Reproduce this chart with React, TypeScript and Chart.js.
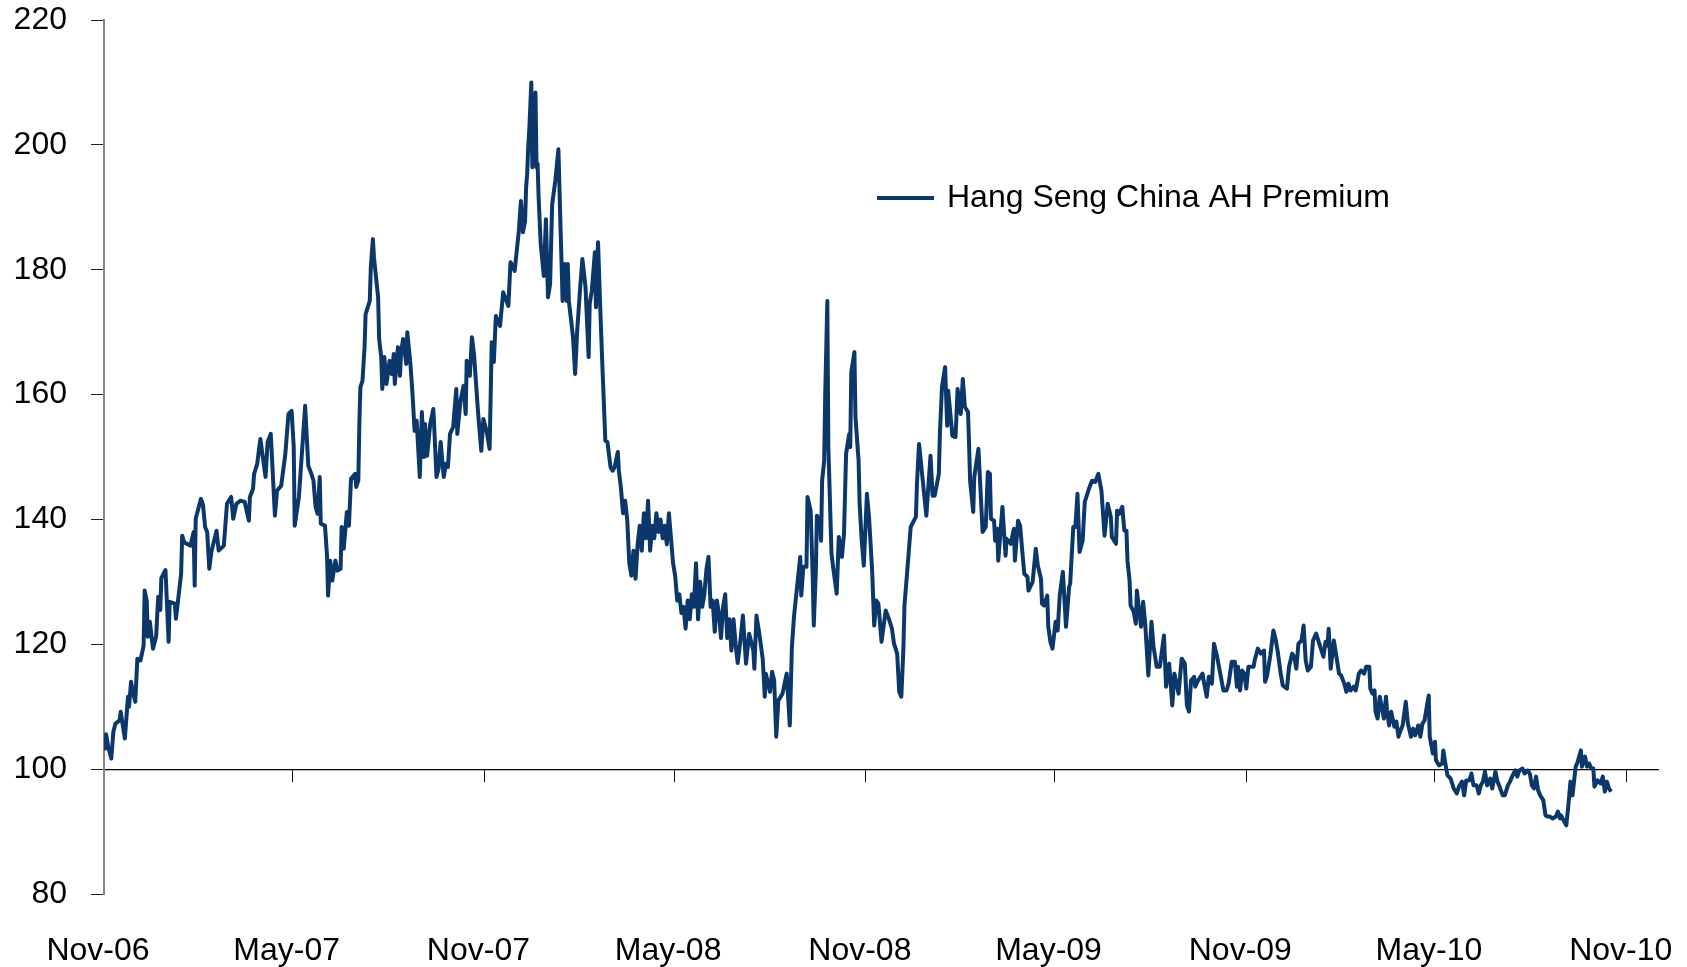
import { useEffect, useRef } from "react";
import { Chart, registerables } from "chart.js";

Chart.register(...registerables);

// Hang Seng China AH Premium index, Nov 2006 – Oct 2010.
// Dates are expressed as days since 1 Nov 2006.
const SERIES_NAME = "Hang Seng China AH Premium";

const tickDays = [0, 181, 365, 547, 731, 912, 1096, 1277, 1461];
const tickLabels = ["Nov-06", "May-07", "Nov-07", "May-08", "Nov-08", "May-09", "Nov-09", "May-10", "Nov-10"];

const yTicks = [80, 100, 120, 140, 160, 180, 200, 220];

const dayOffsets = [
  0, 1, 2, 4, 7, 9, 11, 15, 16, 20,
  23, 24, 26, 27, 30, 32, 35, 38, 39, 41,
  42, 44, 47, 50, 52, 54, 55, 59, 62, 63,
  68, 69, 74, 75, 77, 83, 86, 87, 88, 93,
  95, 97, 99, 101, 103, 108, 110, 115, 118, 122,
  124, 127, 131, 135, 139, 140, 143, 144, 147, 150,
  155, 157, 160, 164, 166, 170, 174, 177, 180, 182,
  183, 187, 193, 196, 199, 201, 203, 205, 207, 208,
  212, 214, 215, 217, 219, 222, 224, 227, 228, 230,
  233, 235, 237, 241, 242, 244, 245, 246, 248, 250,
  251, 255, 256, 258, 259, 263, 264, 266, 267, 269,
  271, 274, 276, 278, 279, 282, 284, 285, 287, 290,
  291, 294, 296, 298, 300, 303, 305, 307, 308, 310,
  313, 316, 317, 319, 321, 323, 326, 328, 330, 332,
  335, 338, 339, 342, 345, 347, 348, 351, 353, 355,
  359, 362, 364, 367, 370, 372, 374, 376, 380, 383,
  388, 390, 394, 398, 400, 402, 404, 405, 406, 407,
  408, 410, 411, 413, 414, 415, 416, 417, 419, 422,
  424, 426, 428, 430, 433, 436, 438, 439, 440, 442,
  444, 445, 446, 449, 450, 452, 454, 457, 459, 462,
  463, 465, 466, 468, 471, 472, 474, 476, 478, 479,
  481, 483, 486, 488, 490, 493, 494, 496, 498, 500,
  502, 504, 506, 508, 510, 512, 514, 516, 518, 520,
  522, 524, 526, 528, 530, 532, 534, 536, 538, 540,
  542, 544, 546, 548, 550, 552, 554, 556, 558, 560,
  562, 564, 566, 568, 570, 572, 574, 576, 578, 580,
  582, 584, 586, 588, 590, 592, 594, 596, 598, 600,
  602, 604, 606, 608, 611, 613, 616, 619, 623, 624,
  626, 629, 632, 634, 635, 639, 641, 643, 645, 647,
  651, 655, 658, 660, 662, 668, 669, 671, 674, 675,
  678, 680, 681, 683, 684, 687, 688, 689, 691, 692,
  694, 695, 698, 700, 703, 705, 708, 710, 712, 715,
  716, 717, 720, 721, 724, 725, 727, 729, 732, 734,
  737, 739, 741, 743, 746, 750, 753, 756, 758, 761,
  763, 765, 767, 768, 771, 774, 779, 780, 782, 789,
  793, 795, 797, 801, 802, 804, 807, 809, 810, 814,
  817, 819, 822, 824, 826, 829, 830, 831, 834, 835,
  839, 841, 843, 846, 848, 850, 851, 854, 855, 857,
  858, 862, 865, 866, 870, 873, 874, 877, 879, 881,
  883, 886, 887, 891, 894, 896, 899, 900, 902, 905,
  906, 908, 910, 913, 915, 917, 920, 923, 926, 927,
  930, 932, 934, 936, 939, 941, 945, 948, 951, 954,
  957, 960, 963, 966, 967, 971, 972, 974, 977, 979,
  981, 982, 984, 985, 988, 990, 991, 995, 997, 999,
  1002, 1005, 1007, 1010, 1013, 1017, 1019, 1022, 1025, 1027,
  1031, 1034, 1037, 1039, 1041, 1043, 1046, 1047, 1049, 1054,
  1055, 1058, 1060, 1063, 1065, 1068, 1071, 1074, 1077, 1079,
  1082, 1085, 1087, 1088, 1090, 1092, 1094, 1096, 1098, 1103,
  1104, 1107, 1110, 1113, 1114, 1116, 1119, 1122, 1124, 1126,
  1129, 1131, 1135, 1137, 1140, 1142, 1144, 1146, 1149, 1151,
  1153, 1155, 1158, 1160, 1163, 1167, 1170, 1172, 1174, 1175,
  1177, 1180, 1182, 1185, 1187, 1190, 1192, 1194, 1196, 1199,
  1201, 1204, 1206, 1209, 1211, 1214, 1215, 1217, 1219, 1220,
  1222, 1224, 1228, 1230, 1231, 1233, 1235, 1238, 1240, 1242,
  1244, 1246, 1249, 1251, 1254, 1256, 1258, 1261, 1263, 1265,
  1267, 1271, 1272, 1275, 1277, 1278, 1281, 1284, 1285, 1287,
  1289, 1292, 1295, 1298, 1300, 1303, 1305, 1307, 1310, 1312,
  1314, 1317, 1319, 1321, 1323, 1325, 1327, 1330, 1332, 1335,
  1337, 1339, 1342, 1344, 1347, 1349, 1351, 1354, 1356, 1358,
  1361, 1363, 1366, 1368, 1370, 1372, 1374, 1376, 1378, 1381,
  1383, 1385, 1387, 1390, 1393, 1395, 1397, 1398, 1401, 1403,
  1405, 1407, 1409, 1412, 1414, 1417, 1418, 1421, 1423, 1425,
  1427, 1429, 1430, 1433, 1436, 1438, 1440, 1442, 1444, 1446,
];

const premiumValues = [
  105.4, 103.3, 105.6, 103.6, 101.7, 106, 107.3, 107.8, 109.2, 104.9,
  111.6, 110, 114, 112.9, 110.8, 117.7, 117.4, 119.8, 128.6, 127,
  121.2, 123.6, 119.3, 121.2, 127.6, 125.5, 130.6, 131.9, 120.4, 126.8,
  126.5, 124.1, 131.3, 137.4, 136.3, 135.8, 138, 129.4, 140.1, 143.3,
  142.3, 138.8, 138, 132.1, 134.8, 138.2, 135, 135.8, 142.5, 143.6,
  140.1, 142.5, 143, 142.8, 139.8, 143.6, 144.9, 147.3, 148.9, 152.9,
  146.8, 152.4, 153.7, 140.6, 144.6, 145.4, 150.5, 156.9, 157.4, 151.8,
  139, 143.6, 158.2, 148.6, 147.3, 146.2, 142, 140.9, 146.8, 139.3,
  139, 134.2, 127.8, 133.4, 130.2, 133.4, 131.8, 132.1, 138.8, 135.3,
  141.2, 139, 146.5, 147.3, 145.2, 146.2, 155.3, 161.2, 162.2, 167.6,
  172.9, 175, 180.4, 184.9, 182, 175.6, 168.9, 166, 160.9, 166,
  161.7, 165.4, 163.3, 166.5, 161.7, 167.6, 163, 166.8, 168.9, 164.9,
  170, 164.9, 160.1, 154.2, 155.8, 146.8, 157.2, 150, 155.3, 150.2,
  155.3, 157.7, 154.2, 146.8, 148.1, 152.4, 146.8, 148.9, 148.4, 153.7,
  154.8, 160.9, 153.7, 159, 161.4, 156.9, 165.4, 163, 169.2, 166.5,
  156.9, 151, 156.1, 154.2, 151.3, 168.4, 165.2, 172.6, 171, 176.4,
  174.2, 181.2, 179.8, 186.2, 191, 186, 187.8, 193.2, 195.3, 199.6,
  202.2, 210, 196.4, 197.4, 208.4, 196.4, 197, 191.6, 184.1, 179,
  188.1, 175.6, 177.7, 190.5, 194.2, 199.3, 186.8, 181.2, 175, 180.9,
  175, 180.9, 175, 170.7, 169.2, 163.3, 170.2, 177.4, 181.7, 177.2,
  173.4, 166, 174.5, 176.6, 182.8, 174, 184.4, 174.5, 165.4, 161.2,
  152.6, 152.4, 148.4, 147.8, 148.4, 150.8, 147.8, 145, 141, 143,
  140, 133, 131, 135, 130.5, 136, 139, 135, 141, 137,
  143, 135, 139, 137, 141, 138, 140, 137, 139, 136,
  141, 137, 133, 131, 127, 128, 125, 126, 122.5, 127,
  124, 128, 126, 133, 124, 130, 126, 128, 132, 134,
  126, 127, 122, 127, 125, 121, 126, 128, 121, 124,
  119, 124, 120, 117, 121.2, 124.6, 116.9, 121.7, 119, 116.1,
  124.6, 121.4, 117.7, 111.6, 115.3, 112.4, 115.6, 114.2, 105.2, 111,
  112.1, 115.3, 107, 119.6, 124.4, 134, 127.8, 132.4, 132.4, 143.6,
  141.4, 130.8, 123, 131.8, 140.6, 139.8, 136.6, 146.2, 149.4, 160.1,
  175, 151.6, 134.5, 131.8, 128.1, 137.2, 134, 137.7, 150.5, 153.7,
  151.6, 163.6, 166.8, 156.4, 149.4, 142.5, 136.6, 132.6, 144.1, 140.4,
  131.8, 123, 127, 126.5, 120.4, 125.4, 124.1, 122.5, 120.1, 118.5,
  112.4, 111.6, 119.3, 126.2, 132.4, 138.8, 140.4, 145.7, 152.1, 140.6,
  150.2, 143.8, 143.8, 147.3, 153.7, 161.2, 164.4, 155, 160.6, 153.4,
  153.2, 160.9, 156.9, 162.5, 158, 157.2, 152.1, 146.2, 141.2, 146.8,
  151.3, 144.6, 138, 138.8, 147.6, 147.3, 140.1, 139.8, 136.6, 138.5,
  133.4, 142, 134.2, 136.9, 136.1, 138.5, 133.4, 139.8, 139, 135,
  131.3, 130.8, 128.6, 130, 135.3, 132.6, 130.5, 126.5, 126.2, 127.8,
  122.8, 120.4, 119.3, 123.6, 122.2, 127.8, 131.6, 122.8, 129.2, 129.7,
  138.8, 138.8, 144.1, 134.8, 136.6, 142.8, 144.9, 146.2, 146, 147.3,
  144.6, 137.4, 142.5, 140.4, 137.2, 136.1, 141.4, 140.9, 142, 138.2,
  138.2, 133.4, 130.2, 126.2, 125.2, 123.3, 128.6, 122.8, 126.8, 123.3,
  115, 123.6, 119.6, 116.4, 116.4, 121.4, 113.2, 116.9, 110.2, 115.3,
  112.1, 117.7, 116.9, 110.2, 109.2, 114.2, 114.8, 113.2, 114, 115.3,
  114.2, 111.6, 114.8, 113.7, 120.1, 118, 115.3, 112.6, 112.6, 113.7,
  117.2, 117.2, 113.2, 116.4, 112.6, 115.8, 115.3, 112.9, 116.4, 116.4,
  117.4, 119.3, 118.5, 119, 114, 115, 118.2, 122.2, 120.9, 119,
  115.3, 113.4, 112.9, 116.4, 118.5, 118, 116.1, 120.1, 120.6, 123,
  117.4, 115.8, 116.4, 120.6, 121.7, 119.6, 118, 120.4, 119.8, 122.5,
  116.1, 120.6, 118.5, 115.3, 115, 113.7, 112.4, 113.7, 112.6, 113.2,
  112.6, 115.3, 115.8, 115.3, 116.4, 116.4, 112.9, 112.1, 112.6, 109.2,
  108.1, 111.6, 108.1, 111.6, 109.4, 107, 109.2, 106.8, 107.6, 105.2,
  106.2, 107, 110.8, 107.3, 105.2, 106.5, 105.4, 107, 105.2, 107.3,
  107.8, 111.8, 105.2, 102.5, 104.4, 101.4, 100.6, 100.9, 103, 100.9,
  99, 98.5, 96.9, 96.1, 97.2, 98, 95.8, 98.2, 98.2, 99.3,
  97.4, 97.4, 96.1, 97.4, 98, 99.6, 97.4, 98.5, 96.9, 99.6,
  98, 97.2, 95.8, 95.8, 97.4, 98, 98.8, 99.8, 98.8, 99.8,
  100.1, 99.3, 99.8, 99.3, 97.4, 96.9, 98.8, 96.6, 95.8, 95,
  92.6, 92.4, 92.4, 92.1, 92.4, 93.2, 92.1, 92.6, 91.6, 91,
  94.2, 98, 95.8, 100.4, 101.2, 103, 100.4, 102, 100.4, 100.9,
  100.1, 100.1, 97.2, 98.2, 97.7, 98.8, 96.4, 98, 96.9, 96.4,
];

const LINE_COLOR = "#0c376a";
const FONT_FAMILY = "'Liberation Sans', Arial, Helvetica, sans-serif";
const FONT_SIZE = 32;
const X_MIN = 0;
const X_MAX = 1491;

// Legend drawn inside the plot, to the right of the centre.
const insideLegend = {
  id: "insideLegend",
  afterDraw(chart: any) {
    const ctx = chart.ctx as CanvasRenderingContext2D;
    const y = 198;
    ctx.save();
    ctx.strokeStyle = LINE_COLOR;
    ctx.lineWidth = 4;
    ctx.beginPath();
    ctx.moveTo(877, y);
    ctx.lineTo(934, y);
    ctx.stroke();
    ctx.fillStyle = "#000";
    ctx.font = `${FONT_SIZE}px ${FONT_FAMILY}`;
    ctx.textAlign = "left";
    ctx.textBaseline = "middle";
    ctx.fillText(SERIES_NAME, 947, y);
    ctx.restore();
  },
};

function setDateTicks(scale: any) {
  scale.ticks = tickDays.map((v) => ({ value: v }));
}

function labelForDay(value: number) {
  const i = tickDays.indexOf(value);
  return i >= 0 ? tickLabels[i] : "";
}

// Tick labels may overhang the plot edges without shrinking the plot.
function noEdgePadding(scale: any) {
  scale.paddingLeft = 0;
  scale.paddingRight = 0;
  scale.paddingTop = 0;
  scale.paddingBottom = 0;
}

export default function App() {
  const canvasRef = useRef<HTMLCanvasElement | null>(null);

  useEffect(() => {
    const canvas = canvasRef.current;
    if (!canvas) return;
    const n = Math.min(dayOffsets.length, premiumValues.length);
    const points = [];
    for (let i = 0; i < n; i++) points.push({ x: dayOffsets[i], y: premiumValues[i] });

    const chart = new Chart(canvas, {
      type: "line",
      data: {
        datasets: [
          {
            label: SERIES_NAME,
            data: points,
            borderColor: LINE_COLOR,
            borderWidth: 4,
            pointRadius: 0,
            tension: 0,
            fill: false,
            xAxisID: "x",
            yAxisID: "y",
            borderJoinStyle: "round",
          },
        ],
      },
      options: {
        animation: false,
        responsive: false,
        events: [],
        layout: { padding: { top: 20, right: 29, left: 0, bottom: 0 } },
        plugins: {
          legend: { display: false },
          tooltip: { enabled: false },
        },
        scales: {
          x: {
            type: "linear",
            position: { y: 100 } as any,
            min: X_MIN,
            max: X_MAX,
            afterBuildTicks: setDateTicks,
            afterFit: noEdgePadding,
            ticks: { display: false },
            grid: {
              display: true,
              drawOnChartArea: false,
              drawTicks: true,
              tickLength: 12,
              color: "#111",
              lineWidth: 1,
            },
            border: { display: true, color: "#000", width: 1.2 },
          },
          xLabels: {
            type: "linear",
            axis: "x",
            position: "bottom",
            min: X_MIN,
            max: X_MAX,
            afterBuildTicks: setDateTicks,
            afterFit: (scale: any) => {
              noEdgePadding(scale);
              scale.height = 73;
            },
            ticks: {
              autoSkip: false,
              maxRotation: 0,
              minRotation: 0,
              padding: 38,
              labelOffset: -6,
              color: "#000",
              font: { family: FONT_FAMILY, size: FONT_SIZE },
              callback: (value: any) => labelForDay(Number(value)),
            },
            grid: { display: false, drawTicks: false, drawOnChartArea: false },
            border: { display: false },
          },
          y: {
            type: "linear",
            position: "left",
            min: 80,
            max: 220,
            afterBuildTicks: (scale: any) => {
              scale.ticks = yTicks.map((v) => ({ value: v }));
            },
            afterFit: (scale: any) => {
              noEdgePadding(scale);
              scale.width = 104;
            },
            ticks: {
              padding: 24,
              color: "#000",
              font: { family: FONT_FAMILY, size: FONT_SIZE },
            },
            grid: {
              display: true,
              drawOnChartArea: false,
              drawTicks: true,
              tickLength: 13,
              color: "#222",
              lineWidth: 1,
            },
            border: { display: true, color: "#868686", width: 2 },
          },
        },
      } as any,
      plugins: [insideLegend],
    });

    return () => chart.destroy();
  }, []);

  return (
    <div style={{ position: "fixed", left: 0, top: 0, width: 1687, height: 967, background: "#fff" }}>
      <canvas ref={canvasRef} width={1687} height={967} style={{ display: "block" }} />
    </div>
  );
}
